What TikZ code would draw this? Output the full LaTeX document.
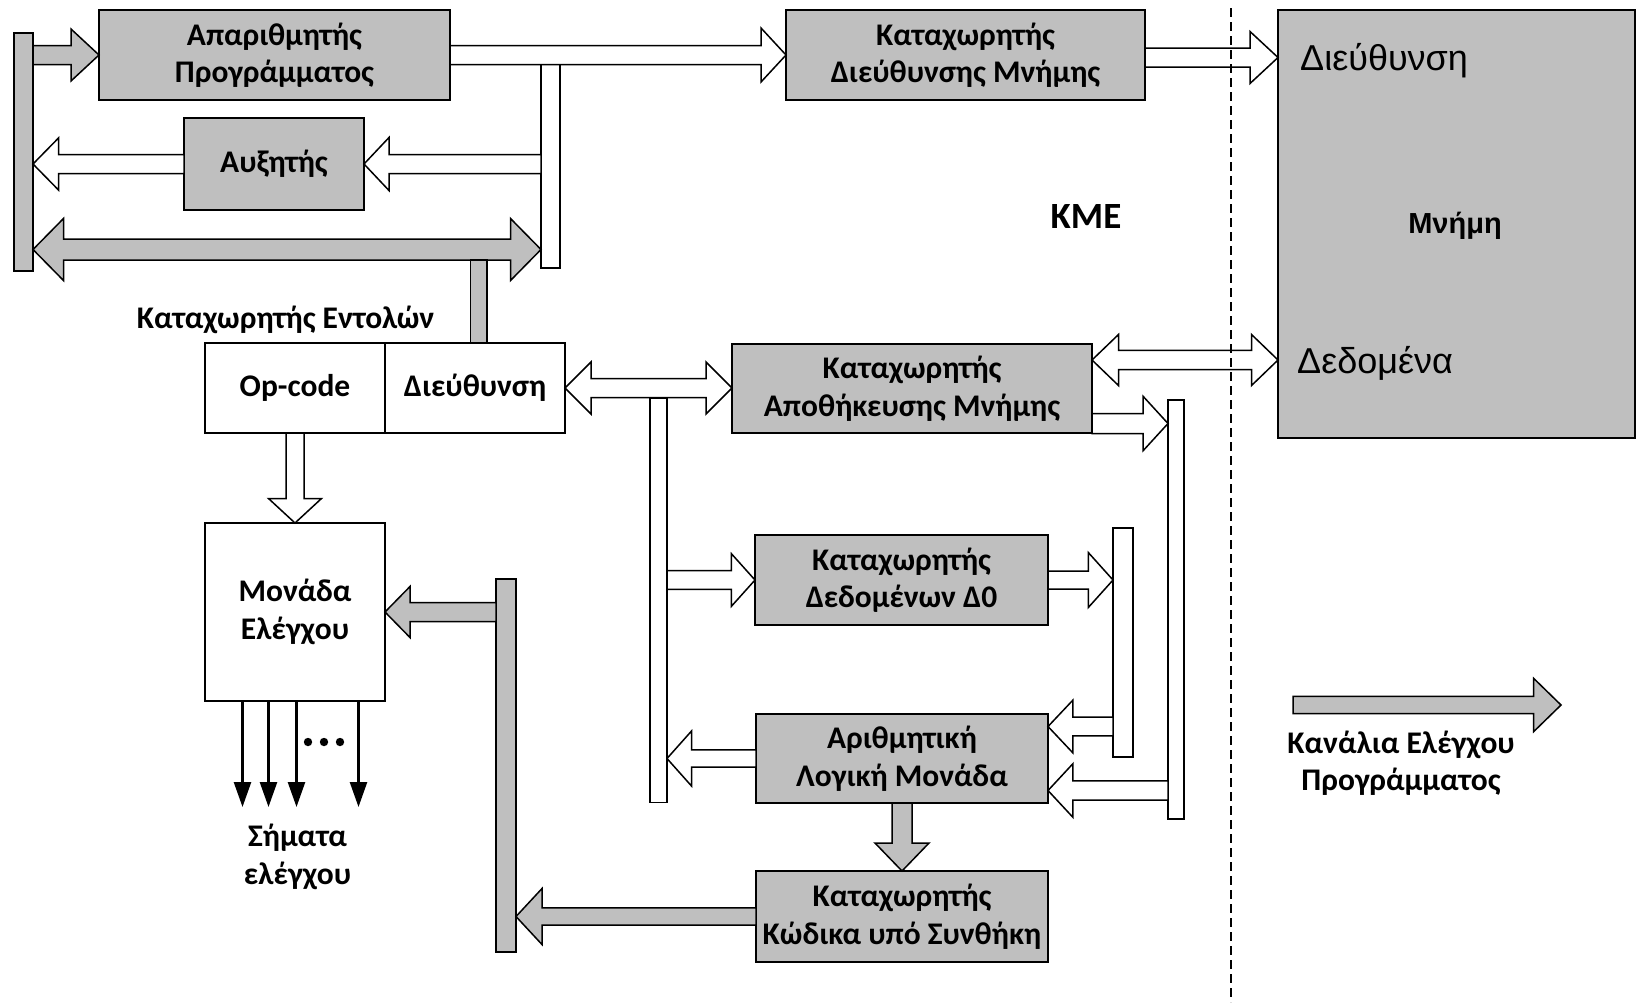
\documentclass[tikz,border=0pt]{standalone}
\usepackage{fontspec}
\setmainfont{Carlito}
\newfontfamily\memfont{Liberation Sans}
\usetikzlibrary{calc,arrows.meta}
\definecolor{boxgray}{RGB}{191,191,191}

% Block arrow from #2 to #3: shaft half width #4, head half width #5, head length #6
\newcommand\sarrow[6]{%
  \path[#1] ($(#2)!#4!90:(#3)$)
    -- ($(#3)!#6!(#2)!#4!270:(#2)$)
    -- ($(#3)!#6!(#2)!#5!270:(#2)$)
    -- (#3)
    -- ($(#3)!#6!(#2)!#5!90:(#2)$)
    -- ($(#3)!#6!(#2)!#4!90:(#2)$)
    -- ($(#2)!#4!270:(#3)$) -- cycle;}
% Block arrow with a head at both ends
\newcommand\darrow[6]{%
  \path[#1] (#2)
    -- ($(#2)!#6!(#3)!#5!90:(#3)$)
    -- ($(#2)!#6!(#3)!#4!90:(#3)$)
    -- ($(#3)!#6!(#2)!#4!270:(#2)$)
    -- ($(#3)!#6!(#2)!#5!270:(#2)$)
    -- (#3)
    -- ($(#3)!#6!(#2)!#5!90:(#2)$)
    -- ($(#3)!#6!(#2)!#4!90:(#2)$)
    -- ($(#2)!#6!(#3)!#4!270:(#3)$)
    -- ($(#2)!#6!(#3)!#5!270:(#3)$) -- cycle;}

\newcommand\lbl{\bfseries\fontsize{31.5}{37.5}\selectfont}

\begin{document}
\begin{tikzpicture}[x=1pt,y=-1pt,
  box/.style={draw=black,line width=1.6pt,fill=boxgray,rectangle,inner sep=0pt,
    outer sep=0pt,align=center,font=\lbl},
  wbox/.style={box,fill=white},
  bar/.style={draw=black,line width=1.6pt,fill=boxgray,rectangle,inner sep=0pt,outer sep=0pt},
  wbar/.style={bar,fill=white},
  wa/.style={draw=black,line width=1.5pt,fill=white,line join=miter},
  ga/.style={wa,fill=boxgray},
  sig/.style={line width=2.5pt,-{Triangle[length=25pt,width=17pt]}},
  txt/.style={inner sep=0pt,align=center,font=\lbl},
]
\useasboundingbox[fill=white] (0,0) rectangle (1637,1002);

% ---- registers and units ----
\node[box,minimum width=351pt,minimum height=90pt] (ap) at (274.5,55) {Απαριθμητής\\Προγράμματος};
\node[box,minimum width=180pt,minimum height=92pt] (afx) at (274,164) {Αυξητής};
\node[box,minimum width=359pt,minimum height=90pt] (kd) at (965.5,55) {Καταχωρητής\\Διεύθυνσης Μνήμης};
\node[box,minimum width=357pt,minimum height=428pt] (mem) at (1456.5,224) {};
\node[wbox,minimum width=180pt,minimum height=90pt] (opc) at (295,388) {Op-code};
\node[wbox,minimum width=180pt,minimum height=90pt] (adr) at (475,388) {Διεύθυνση};
\node[wbox,minimum width=180pt,minimum height=178pt] (mon) at (295,612) {Μονάδα\\Ελέγχου};
\node[box,minimum width=360pt,minimum height=89pt] (apo) at (912,388.5) {Καταχωρητής\\Αποθήκευσης Μνήμης};
\node[box,minimum width=293pt,minimum height=90pt] (d0) at (901.5,580) {Καταχωρητής\\Δεδομένων Δ0};
\node[box,minimum width=292pt,minimum height=89pt] (alu) at (902,758.5) {Αριθμητική\\Λογική Μονάδα};
\node[box,minimum width=292pt,minimum height=91pt] (kod) at (902,916.5) {Καταχωρητής\\Κώδικα υπό Συνθήκη};

% ---- buses (bars) ----
\node[bar,minimum width=19pt,minimum height=238pt] (lbar) at (23.5,152) {};
\node[wbar,minimum width=19pt,minimum height=203.5pt] (wbar1) at (550.5,166.25) {};
\node[bar,minimum width=20pt,minimum height=373pt] (gbar) at (506,765.5) {};
\node[wbar,minimum width=17pt,minimum height=404.5pt] (wbar2) at (658.5,600.25) {};
\node[wbar,minimum width=20pt,minimum height=229pt] (wbar3) at (1123,642.5) {};
\node[wbar,minimum width=16pt,minimum height=419pt] (wbar4) at (1176,609.5) {};

% ---- labels ----
\node[txt] (irl) at (285.5,320) {Καταχωρητής Εντολών};
\node[txt,font=\bfseries\fontsize{37}{40}\selectfont] (kme) at (1086,216) {KME};
\node[inner sep=0pt,anchor=base west,font=\memfont\fontsize{36}{42}\selectfont] (mema) at (1300,70) {Διεύθυνση};
\node[inner sep=0pt,anchor=base west,font=\memfont\fontsize{36}{42}\selectfont] (memd) at (1297,373) {Δεδομένα};
\node[inner sep=0pt,font=\memfont\bfseries\fontsize{29}{34}\selectfont] (memt) at (1455,226) {Μνήμη};
\node[txt] (sigl) at (297.5,857) {Σήματα\\ελέγχου};
\node[txt] (lgt) at (1401,763) {Κανάλια Ελέγχου\\Προγράμματος};

% ---- helper points ----
\coordinate (bus) at (300,249.5);
\coordinate (c1) at (lbar.east |- ap.west);
\coordinate (kdo) at ($(kd.east)+(0,2.5)$);
\coordinate (c3) at (mem.west |- kdo);
\coordinate (c4) at (wbar1.west |- afx.east);
\coordinate (c5) at (lbar.east |- afx.west);
\coordinate (c6a) at (lbar.east |- bus);
\coordinate (c6b) at (wbar1.west |- bus);
\coordinate (c8) at (apo.west |- adr.east);
\coordinate (c11) at (gbar.west |- mon.east);
\coordinate (c13) at (gbar.east |- kod.west);
\coordinate (c15) at (wbar2.east |- alu.west);
\coordinate (c16) at (wbar2.east |- d0.west);
\coordinate (c17) at (wbar3.west |- d0.east);
\coordinate (alui1) at ($(alu.east)+(0,-32)$);
\coordinate (alui2) at ($(alu.east)+(0,32)$);
\coordinate (c18) at (wbar3.west |- alui1);
\coordinate (c19) at (wbar4.west |- alui2);
\coordinate (apoo) at ($(apo.east)+(0,35)$);
\coordinate (apod) at ($(apo.east)+(0,-28.5)$);
\coordinate (c20) at (wbar4.west |- apoo);
\coordinate (c21) at (mem.west |- apod);
\coordinate (lgA) at (1293,705);
\coordinate (lgB) at (1561,705);

% ---- block arrows ----
\sarrow{ga}{c1}{ap.west}{9.5pt}{26pt}{28pt}
\sarrow{wa}{ap.east}{kd.west}{9.5pt}{27pt}{25pt}
\sarrow{wa}{kdo}{c3}{9.5pt}{26pt}{28pt}
\sarrow{wa}{c4}{afx.east}{9.5pt}{26.5pt}{25pt}
\sarrow{wa}{afx.west}{c5}{9.5pt}{26pt}{25.5pt}
\darrow{ga}{c6a}{c6b}{10.5pt}{31pt}{30.5pt}
\darrow{wa}{adr.east}{c8}{9.5pt}{26pt}{26pt}
\sarrow{wa}{opc.south}{mon.north}{9pt}{26.5pt}{24.5pt}
\sarrow{ga}{c11}{mon.east}{9.5pt}{25.5pt}{25pt}
\sarrow{ga}{kod.west}{c13}{8.7pt}{28pt}{26pt}
\sarrow{ga}{alu.south}{kod.north}{10pt}{27pt}{28pt}
\sarrow{wa}{alu.west}{c15}{8.7pt}{27.5pt}{24.5pt}
\sarrow{wa}{c16}{d0.west}{9.3pt}{26.3pt}{23.6pt}
\sarrow{wa}{d0.east}{c17}{9pt}{27.5pt}{24.7pt}
\sarrow{wa}{c18}{alui1}{9.3pt}{26.3pt}{24.8pt}
\sarrow{wa}{c19}{alui2}{9.6pt}{26.7pt}{24.8pt}
\sarrow{wa}{apoo}{c20}{10pt}{27.3pt}{25pt}
\darrow{wa}{apod}{c21}{9.6pt}{25.5pt}{26.5pt}
\sarrow{ga}{lgA}{lgB}{8.7pt}{26.7pt}{27.4pt}

% ---- stub from the bus down to the instruction register ----
\node[bar,minimum width=16.5pt,minimum height=83pt] (stub) at (478.75,301.5) {};

% ---- control signals ----
\coordinate (s1) at (242.5,807);
\coordinate (s2) at (268.5,807);
\coordinate (s3) at (296.5,807);
\coordinate (s4) at (358.5,807);
\foreach \s in {s1,s2,s3,s4} \draw[sig] (\s |- mon.south) -- (\s);
\foreach \x in {308,324,340} \fill (\x,742) circle (4.2pt);

% ---- CPU / memory boundary ----
\draw[line width=1.5pt,dash pattern=on 9pt off 5pt] (1231,8) -- (1231,1002);
\end{tikzpicture}
\end{document}
